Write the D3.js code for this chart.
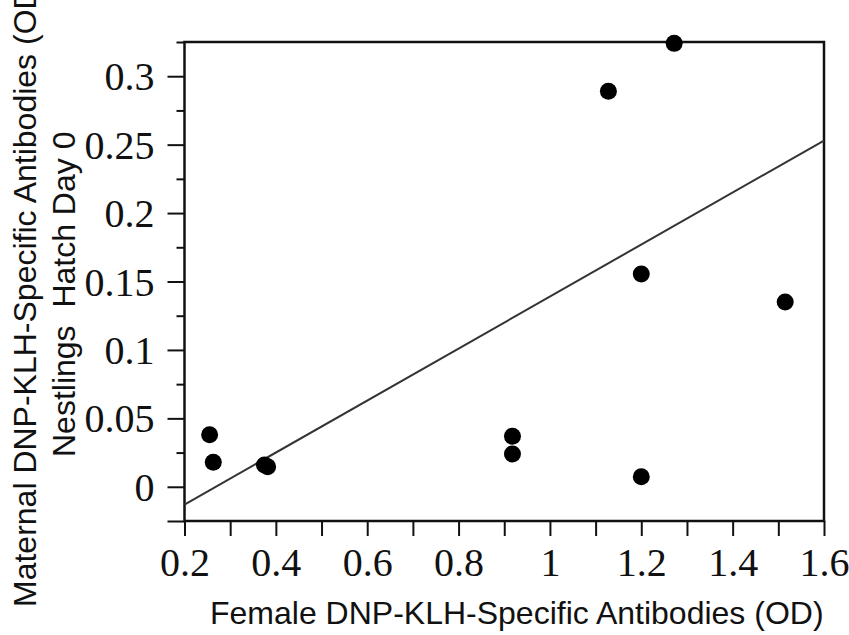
<!DOCTYPE html>
<html>
<head>
<meta charset="utf-8">
<script src="https://cdn.jsdelivr.net/npm/d3@7"></script>
<style>
  body { margin: 0; background: #fff; }
  svg { display: block; }
  .tick text { font-family: "Liberation Serif", "Times New Roman", serif; font-size: 40px; fill: #111; }
  .title { font-family: "Liberation Sans", Arial, sans-serif; fill: #111; white-space: pre; }
</style>
</head>
<body>
<script>
// female antibodies (x) vs nestling maternal antibodies (y)
const femaleOD = [0.255, 0.263, 0.375, 0.382, 0.918, 0.918, 1.128, 1.272, 1.2, 1.2, 1.515];
const nestlingOD = [0.038, 0.018, 0.016, 0.0146, 0.037, 0.024, 0.289, 0.324, 0.1555, 0.0073, 0.135];

// fitted line ends
const fitX = [0.2, 1.6];
const fitY = [-0.013, 0.253];

const xTicks = [0.2, 0.4, 0.6, 0.8, 1, 1.2, 1.4, 1.6];
const xTickLabels = ["0.2", "0.4", "0.6", "0.8", "1", "1.2", "1.4", "1.6"];
const xMinor = [0.3, 0.5, 0.7, 0.9, 1.1, 1.3, 1.5];
const yTicks = [-0.025, 0, 0.05, 0.1, 0.15, 0.2, 0.25, 0.3];
const yTickLabels = ["", "0", "0.05", "0.1", "0.15", "0.2", "0.25", "0.3"];
const yMinor = [0.025, 0.075, 0.125, 0.175, 0.225, 0.275, 0.325];

const width = 849, height = 635;
const plotL = 184.5, plotR = 824, plotT = 42, plotB = 521;

const svg = d3.select("body").append("svg")
    .attr("width", width)
    .attr("height", height);

const x = d3.scaleLinear().domain([0.2, 1.6]).range([plotL, plotR]);
const y = d3.scaleLinear().domain([-0.025, 0.325]).range([plotB, plotT]);

// x axis
const xAxis = d3.axisBottom(x)
    .tickValues(xTicks)
    .tickSize(15)
    .tickFormat((d, i) => xTickLabels[i]);
const gx = svg.append("g").attr("transform", `translate(0,${plotB})`).call(xAxis);
gx.selectAll(".tick text").attr("y", 55).attr("dy", 0);

svg.append("g").attr("transform", `translate(0,${plotB})`)
    .call(d3.axisBottom(x).tickValues(xMinor).tickSize(15).tickFormat(""));

// y axis
const yAxis = d3.axisLeft(y)
    .tickValues(yTicks)
    .tickSize(17)
    .tickPadding(13)
    .tickFormat((d, i) => yTickLabels[i]);
const gy = svg.append("g").attr("transform", `translate(${plotL},0)`).call(yAxis);
gy.selectAll(".tick text").attr("dy", "0.34em");

svg.append("g").attr("transform", `translate(${plotL},0)`)
    .call(d3.axisLeft(y).tickValues(yMinor).tickSize(8).tickFormat(""));

svg.selectAll(".domain").remove();
svg.selectAll(".tick line").attr("stroke", "#111").attr("stroke-width", 2);

// frame
svg.append("rect")
    .attr("x", plotL).attr("y", plotT)
    .attr("width", plotR - plotL).attr("height", plotB - plotT)
    .attr("fill", "none")
    .attr("stroke", "#111")
    .attr("stroke-width", 2.5);

// fit line
svg.append("line")
    .attr("x1", x(fitX[0])).attr("y1", y(fitY[0]))
    .attr("x2", x(fitX[1])).attr("y2", y(fitY[1]))
    .attr("stroke", "#333")
    .attr("stroke-width", 2);

// points
svg.selectAll("circle.pt")
    .data(femaleOD)
    .enter()
    .append("circle")
    .attr("class", "pt")
    .attr("cx", d => x(d))
    .attr("cy", (d, i) => y(nestlingOD[i]))
    .attr("r", 8.5)
    .attr("fill", "#000");

// titles
svg.append("text")
    .attr("class", "title")
    .attr("x", 210).attr("y", 624)
    .attr("font-size", 32)
    .text("Female DNP-KLH-Specific Antibodies (OD)");

svg.append("text")
    .attr("class", "title")
    .attr("transform", "translate(36,607) rotate(-90)")
    .attr("font-size", 32)
    .text("Maternal DNP-KLH-Specific Antibodies (OD)");

svg.append("text")
    .attr("class", "title")
    .attr("transform", "translate(75,457) rotate(-90)")
    .attr("font-size", 32)
    .text("Nestlings  Hatch Day 0");
</script>
</body>
</html>
